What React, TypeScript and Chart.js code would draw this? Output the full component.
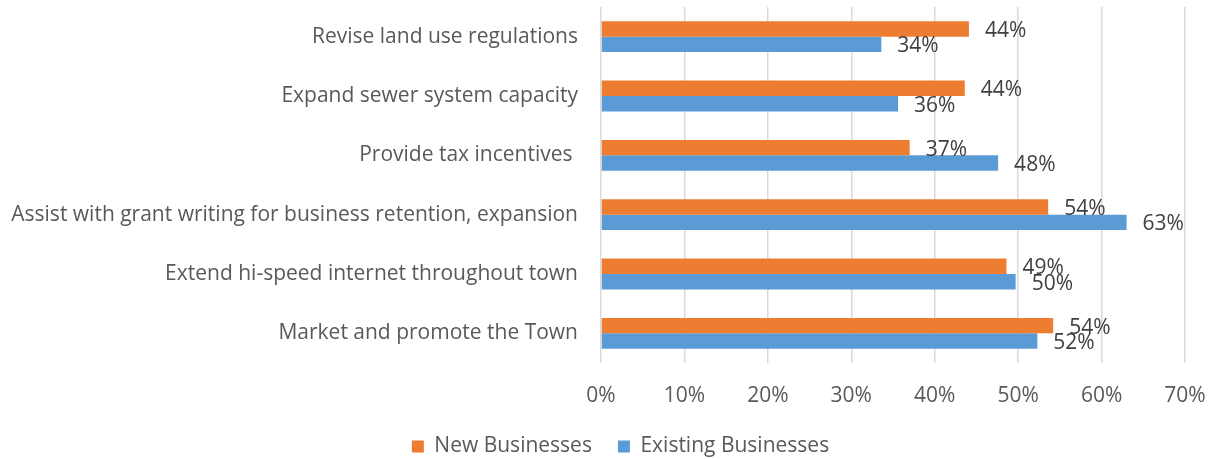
import React, { useEffect, useRef } from "react";
import { Chart, registerables } from "chart.js";

Chart.register(...registerables);

const categories = [
  "Revise land use regulations",
  "Expand sewer system capacity",
  "Provide tax incentives ",
  "Assist with grant writing for business retention, expansion",
  "Extend hi-speed internet throughout town",
  "Market and promote the Town",
];
const newBusinesses = [44.1, 43.6, 37.0, 53.6, 48.6, 54.2];
const existingBusinesses = [33.6, 35.6, 47.6, 63.0, 49.7, 52.3];
const xTicks = [0, 10, 20, 30, 40, 50, 60, 70];

const FONT = "'Open Sans', 'Noto Sans', sans-serif";
const TEXT = "#595959";
const SIZE = 21;

const dataLabels = {
  id: "dataLabels",
  afterLayout(chart: any) {
    if (chart.legend) chart.legend.left = 56;
  },
  afterDatasetsDraw(chart: any) {
    const ctx = chart.ctx;
    ctx.save();
    ctx.font = `${SIZE}px ${FONT}`;
    ctx.fillStyle = "#404040";
    ctx.textAlign = "left";
    ctx.textBaseline = "middle";
    chart.data.datasets.forEach((ds: any, di: number) => {
      const meta = chart.getDatasetMeta(di);
      meta.data.forEach((el: any, i: number) => {
        const v = ds.data[i];
        ctx.fillText(`${Math.round(v)}%`, el.x + 16, el.y + 2);
      });
    });
    ctx.restore();
  },
};

export default function App() {
  const ref = useRef<HTMLCanvasElement | null>(null);
  useEffect(() => {
    document.body.style.margin = "0";
    const chart = new Chart(ref.current!, {
      type: "bar",
      data: {
        labels: categories,
        datasets: [
          {
            label: "New Businesses",
            data: newBusinesses,
            backgroundColor: "#ED7D31",
            barPercentage: 1,
            categoryPercentage: 0.52,
          },
          {
            label: "Existing Businesses",
            data: existingBusinesses,
            backgroundColor: "#5B9BD5",
            barPercentage: 1,
            categoryPercentage: 0.52,
          },
        ],
      },
      options: {
        indexAxis: "y",
        animation: false,
        responsive: false,
        maintainAspectRatio: false,
        layout: { padding: { top: 7, right: 27, left: 0, bottom: -8 } },
        scales: {
          x: {
            min: 0,
            max: 70,
            afterBuildTicks: (scale: any) => {
              scale.ticks = xTicks.map((v) => ({ value: v }));
            },
            afterFit: (scale: any) => {
              scale.height = 47;
              scale.paddingLeft = 0;
              scale.paddingRight = 0;
            },
            grid: { color: "#D9D9D9", lineWidth: 1.5, drawTicks: false },
            border: { display: false },
            ticks: {
              padding: 20,
              color: TEXT,
              font: { size: SIZE, family: FONT },
              callback: (v: any) => `${v}%`,
            },
          },
          y: {
            afterFit: (scale: any) => {
              scale.width = 601;
              scale.paddingTop = 0;
              scale.paddingBottom = 0;
            },
            grid: { display: false, drawTicks: false },
            border: { display: false },
            ticks: {
              padding: 23,
              color: TEXT,
              font: { size: SIZE, family: FONT },
            },
          },
        },
        plugins: {
          legend: {
            position: "bottom",
            labels: {
              boxWidth: 12,
              boxHeight: 12,
              padding: 26,
              color: TEXT,
              font: { size: SIZE, family: FONT },
            },
          },
          tooltip: { enabled: false },
        },
      },
      plugins: [dataLabels],
    });
    return () => chart.destroy();
  }, []);
  return (
    <div style={{ width: 1212, height: 459 }}>
      <canvas ref={ref} width={1212} height={459} style={{ display: "block" }} />
    </div>
  );
}
